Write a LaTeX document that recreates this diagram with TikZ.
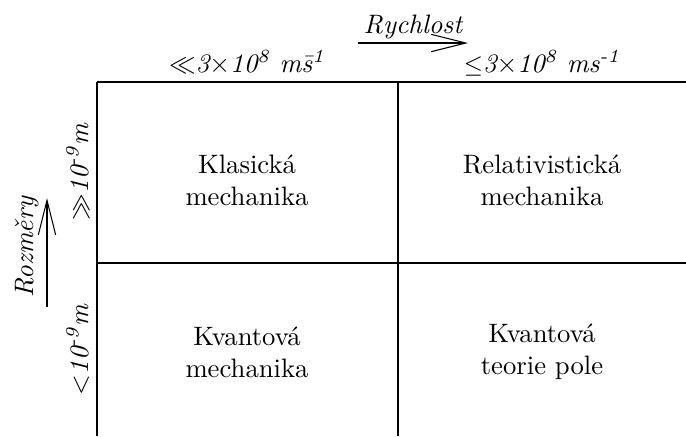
\documentclass[tikz,border=0pt]{standalone}
\usepackage{amsmath, amssymb}
\usepackage{tikz}
\usetikzlibrary{arrows.meta}

\begin{document}
\begin{tikzpicture}[x=0.375pt, y=-0.375pt,
        cell/.style={align=center},
        lbl/.style={font=\itshape, inner sep=0pt},
        bigarrow/.style={-{Straight Barb[length=13pt, width=6.5pt]}, thin}
    ]
        \useasboundingbox (0,0) rectangle (686,436);
        % grid
        \coordinate (tl) at (97,82);
        \coordinate (tm) at (398,82);
        \coordinate (tr) at (686,82);
        \coordinate (ml) at (97,263);
        \coordinate (mr) at (686,263);
        \coordinate (bl) at (97,436);
        \coordinate (bm) at (398,436);
        \draw (tl) -- (tr);
        \draw (tl) -- (bl);
        \draw (tm) -- (bm);
        \draw (ml) -- (mr);
        % cells
        \node[cell] (klas) at (247,180) {Klasická\\mechanika};
        \node[cell] (rel)  at (542,180) {Relativistická\\mechanika};
        \node[cell] (kvm)  at (247,352) {Kvantová\\mechanika};
        \node[cell] (kvt)  at (542,352) {Kvantová\\teorie pole};
        % axis labels
        \node[lbl, anchor=base] (rych) at (413,33) {Rychlost};
        \coordinate (rs) at (358,43);
        \coordinate (re) at (468,43);
        \draw[bigarrow] (rs) -- (re);
        \node[lbl, anchor=base, rotate=90] (rozm) at (33,247) {Rozměry};
        \coordinate (vs) at (47,307);
        \coordinate (ve) at (47,198);
        \draw[bigarrow] (vs) -- (ve);
        \node[lbl, anchor=base] (slow) at (247,72) {$\ll$3$\times$10\textsuperscript{8} m\={s}\textsuperscript{1}};
        \node[lbl, anchor=base] (fast) at (542,72) {{\small$\leq$}3$\times$10\textsuperscript{8} ms\textsuperscript{-1}};
        \node[lbl, anchor=base, rotate=90] (large) at (88,172) {$\gg$10\textsuperscript{-9}m};
        \node[lbl, anchor=base, rotate=90] (small) at (88,350) {$<$10\textsuperscript{-9}m};
    \end{tikzpicture}
\end{document}
